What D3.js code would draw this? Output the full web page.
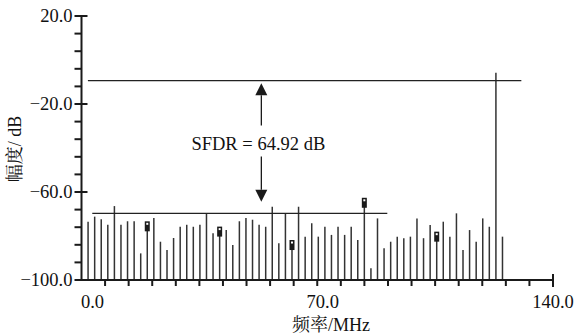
<!DOCTYPE html>
<html>
<head>
<meta charset="utf-8">
<script src="https://cdn.jsdelivr.net/npm/d3@7"></script>
<style>
  html, body { margin: 0; padding: 0; background: #fff; }
  svg { display: block; }
  text { font-family: "Liberation Serif", "Noto Serif CJK SC", "Noto Sans CJK SC", serif; fill: #111; }
</style>
</head>
<body>
<div id="chart"></div>
<script>
// FFT bin centres (MHz) and their level (dB)
const freqs = [
  1.95, 3.91, 5.86, 7.81, 9.77, 11.72, 13.67, 15.63, 17.58, 19.53,
  21.48, 23.44, 25.39, 27.34, 29.30, 31.25, 33.20, 35.16, 37.11, 39.06,
  41.02, 42.97, 44.92, 46.88, 48.83, 50.78, 52.73, 54.69, 56.64, 58.59,
  60.55, 62.50, 64.45, 66.41, 68.36, 70.31, 72.27, 74.22, 76.17, 78.13,
  80.08, 82.03, 83.98, 85.94, 87.89, 89.84, 91.80, 93.75, 95.70, 97.66,
  99.61, 101.56, 103.52, 105.47, 107.42, 109.38, 111.33, 113.28, 115.23, 117.19,
  119.14, 121.09, 123.05, 125.00
];
const levels = [
  -73.5, -71.2, -72.4, -74.9, -66.4, -74.9, -73.3, -73.3, -87.9, -75.6,
  -71.8, -82.6, -86.4, -80.9, -75.8, -74.9, -75.8, -74.9, -69.7, -78.8,
  -78.0, -77.3, -84.1, -73.3, -71.8, -72.6, -74.9, -75.8, -66.7, -83.3,
  -69.7, -84.1, -66.7, -80.3, -74.2, -80.3, -75.8, -79.5, -75.8, -79.5,
  -75.8, -81.8, -64.9, -94.7, -72.0, -85.6, -82.6, -80.3, -81.0, -80.3,
  -72.0, -81.0, -75.0, -80.3, -73.5, -80.3, -69.7, -86.4, -77.3, -82.6,
  -72.0, -75.8, -5.8, -80.3
];
// bins (1-based) that carry the small marker box
const markerBins = [10, 21, 32, 43, 54];

const xMajorTicks = [0, 70, 140];
const xTickLabels = ['0.0', '70.0', '140.0'];
const yMajorTicks = [20, -20, -60, -100];
const yTickLabels = ['20.0', '\u221220.0', '\u221260.0', '\u2212100.0'];

// reference levels for the SFDR annotation
const refLines = [
  { level: -9.4, from: 1.9, to: 130.6 },
  { level: -69.7, from: 3.2, to: 90.8 }
];
const sfdrArrow = { freq: 53.4, top: -10.6, bottom: -64.4, textLevel: -37.9 };
const sfdrLabel = 'SFDR = 64.92 dB';

const width = 580, height = 336;
const svg = d3.select('#chart').append('svg')
  .attr('width', width)
  .attr('height', height);

const x = d3.scaleLinear().domain([0, 140]).range([81.5, 553]);
const y = d3.scaleLinear().domain([-100, 20]).range([280, 16]);

const ink = '#1a1a1a';

// bars
svg.append('g')
  .selectAll('line')
  .data(freqs)
  .join('line')
  .attr('x1', d => x(d))
  .attr('x2', d => x(d))
  .attr('y1', y(-100))
  .attr('y2', (d, i) => y(levels[i]))
  .attr('stroke', '#333')
  .attr('stroke-width', 1.5);

// marker boxes
const marks = svg.append('g')
  .selectAll('g')
  .data(markerBins)
  .join('g')
  .attr('transform', b => `translate(${x(freqs[b - 1])},${y(levels[b - 1])})`);
marks.append('rect')
  .attr('x', -2.5).attr('y', -5)
  .attr('width', 5).attr('height', 10)
  .attr('fill', ink);
marks.append('rect')
  .attr('x', -1).attr('y', -3.5)
  .attr('width', 2).attr('height', 2)
  .attr('fill', '#fff');

// reference lines
svg.append('g')
  .selectAll('line')
  .data(refLines)
  .join('line')
  .attr('x1', d => x(d.from))
  .attr('x2', d => x(d.to))
  .attr('y1', d => y(d.level))
  .attr('y2', d => y(d.level))
  .attr('stroke', '#222')
  .attr('stroke-width', 1.3);

// SFDR arrow
const ax = x(sfdrArrow.freq);
const yTop = y(sfdrArrow.top), yBot = y(sfdrArrow.bottom), yTxt = y(sfdrArrow.textLevel);
const head = 12, half = 6;
svg.append('path')
  .attr('d', `M${ax},${yTop}L${ax - half},${yTop + head}L${ax + half},${yTop + head}Z`)
  .attr('fill', ink);
svg.append('path')
  .attr('d', `M${ax},${yBot}L${ax - half},${yBot - head}L${ax + half},${yBot - head}Z`)
  .attr('fill', ink);
svg.append('line')
  .attr('x1', ax).attr('x2', ax)
  .attr('y1', yTop + head).attr('y2', yTxt - 18)
  .attr('stroke', ink).attr('stroke-width', 1.3);
svg.append('line')
  .attr('x1', ax).attr('x2', ax)
  .attr('y1', yTxt + 13).attr('y2', yBot - head)
  .attr('stroke', ink).attr('stroke-width', 1.3);
svg.append('text')
  .attr('x', ax - 3)
  .attr('y', yTxt + 7)
  .attr('text-anchor', 'middle')
  .attr('font-size', 18.5)
  .text(sfdrLabel);

// y axis
const yAxis = svg.append('g');
yAxis.append('line')
  .attr('x1', x(0)).attr('x2', x(0))
  .attr('y1', y(20)).attr('y2', y(-100))
  .attr('stroke', ink).attr('stroke-width', 2);
const yMinor = d3.range(-100, 20, 8).filter(v => !yMajorTicks.includes(v));
yAxis.selectAll('.ymin')
  .data(yMinor)
  .join('line')
  .attr('class', 'ymin')
  .attr('x1', x(0) - 7).attr('x2', x(0))
  .attr('y1', d => y(d)).attr('y2', d => y(d))
  .attr('stroke', ink).attr('stroke-width', 2);
yAxis.selectAll('.ymaj')
  .data(yMajorTicks)
  .join('line')
  .attr('class', 'ymaj')
  .attr('x1', x(0) - 7).attr('x2', x(0) + 6)
  .attr('y1', d => y(d)).attr('y2', d => y(d))
  .attr('stroke', ink).attr('stroke-width', 2);
yAxis.selectAll('text')
  .data(yMajorTicks)
  .join('text')
  .attr('x', x(0) - 9)
  .attr('y', d => y(d))
  .attr('dy', '0.35em')
  .attr('text-anchor', 'end')
  .attr('font-size', 18.5)
  .text((d, i) => yTickLabels[i]);

// x axis
const xAxis = svg.append('g');
xAxis.append('line')
  .attr('x1', x(0)).attr('x2', x(140))
  .attr('y1', y(-100)).attr('y2', y(-100))
  .attr('stroke', ink).attr('stroke-width', 2);
const xMinor = d3.range(7, 140, 7);
xAxis.selectAll('.xmin')
  .data(xMinor)
  .join('line')
  .attr('class', 'xmin')
  .attr('x1', d => x(d)).attr('x2', d => x(d))
  .attr('y1', y(-100)).attr('y2', y(-100) + 6)
  .attr('stroke', ink).attr('stroke-width', 2);
xAxis.append('line')
  .attr('x1', x(140)).attr('x2', x(140))
  .attr('y1', y(-100) - 6).attr('y2', y(-100) + 7)
  .attr('stroke', ink).attr('stroke-width', 2);
const xLabelShift = [11, 5.5, 0];
xAxis.selectAll('text')
  .data(xMajorTicks)
  .join('text')
  .attr('x', (d, i) => x(d) + xLabelShift[i])
  .attr('y', 308)
  .attr('text-anchor', 'middle')
  .attr('font-size', 18.5)
  .text((d, i) => xTickLabels[i]);

// axis titles
svg.append('text')
  .attr('x', 331)
  .attr('y', 331)
  .attr('text-anchor', 'middle')
  .attr('font-size', 18)
  .text('频率/MHz');
svg.append('text')
  .attr('transform', 'translate(15,149) rotate(-90)')
  .attr('text-anchor', 'middle')
  .attr('dy', '0.35em')
  .attr('font-size', 18)
  .text('幅度/ dB');
</script>
</body>
</html>
